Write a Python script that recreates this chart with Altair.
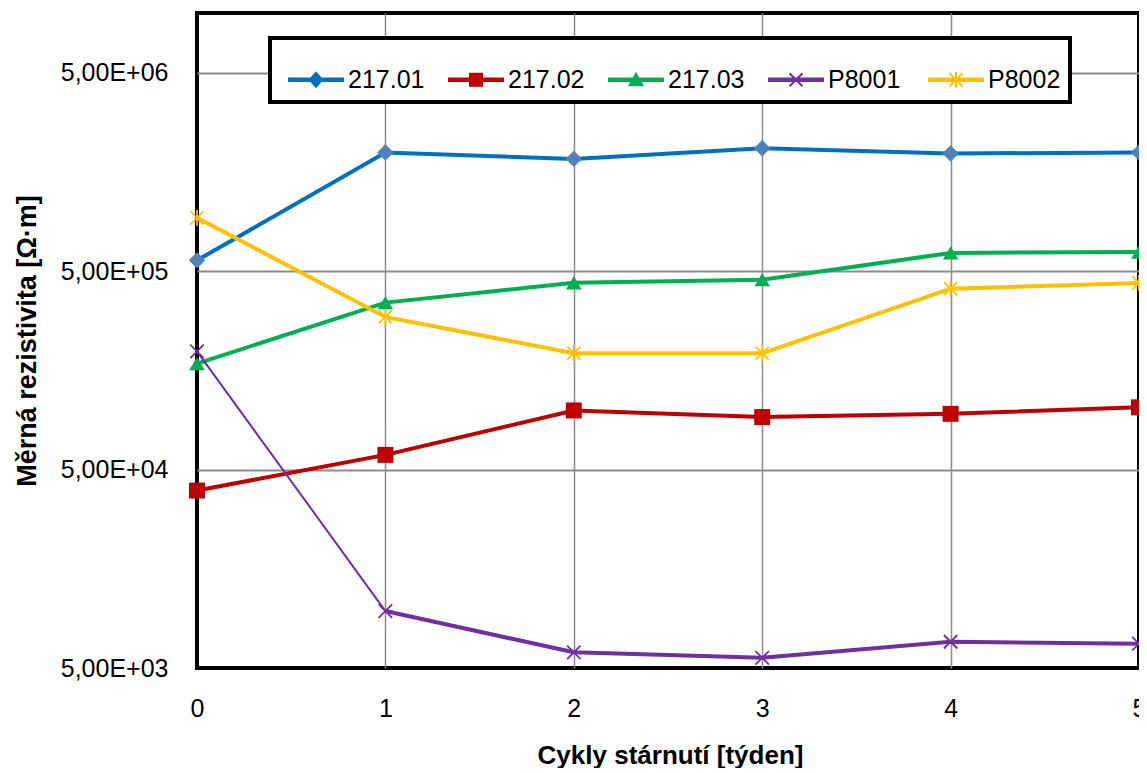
import math
import altair as alt
import pandas as pd

# ---------------- data ----------------
cycles = [0, 1, 2, 3, 4, 5]
series_names = ["217.01", "217.02", "217.03", "P8001", "P8002"]
v_21701 = [5.67e5, 1.98e6, 1.84e6, 2.08e6, 1.96e6, 1.98e6]
v_21702 = [3.92e4, 5.93e4, 9.93e4, 9.20e4, 9.55e4, 1.03e5]
v_21703 = [1.71e5, 3.47e5, 4.37e5, 4.53e5, 6.18e5, 6.25e5]
v_P8001 = [1.97e5, 9.68e3, 6.00e3, 5.63e3, 6.78e3, 6.63e3]
v_P8002 = [9.29e5, 2.94e5, 1.93e5, 1.93e5, 4.08e5, 4.36e5]
y_ticks = [5e3, 5e4, 5e5, 5e6]
x_ticks = [0, 1, 2, 3, 4, 5]

line_colors = ["#0070C0", "#C00000", "#00B050", "#7030A0", "#FFC000"]
marker_colors = ["#4F81BD", "#C00000", "#00B050", "#7030A0", "#FFC000"]

rows = []
for name, vals in zip(series_names, [v_21701, v_21702, v_21703, v_P8001, v_P8002]):
    for c, v in zip(cycles, vals):
        rows.append({"cycle": c, "value": v, "series": name})
df = pd.DataFrame(rows)
# in the original, the first P8001 segment (cycle 0 -> 1) is drawn thinner
df_thin = df[(df["series"] == "P8001") & (df["cycle"] <= 1)]
df_thick = df[~((df["series"] == "P8001") & (df["cycle"] == 0))]

# ---------------- symbol paths ----------------
def poly(pts):
    n = len(pts)
    a = sum(pts[i][0] * pts[(i + 1) % n][1] - pts[(i + 1) % n][0] * pts[i][1] for i in range(n))
    if a < 0:
        pts = pts[::-1]
    return "M" + "L".join(f"{x:.3f},{y:.3f}" for x, y in pts) + "Z"

def bar(x1, y1, x2, y2, t):
    dx, dy = x2 - x1, y2 - y1
    L = math.hypot(dx, dy)
    nx, ny = -dy / L * t, dx / L * t
    return poly([(x1 + nx, y1 + ny), (x2 + nx, y2 + ny), (x2 - nx, y2 - ny), (x1 - nx, y1 - ny)])

# data markers (unit box)
x_mark = bar(-0.9, -0.9, 0.9, 0.9, 0.12) + bar(-0.9, 0.9, 0.9, -0.9, 0.12)
ast_mark = x_mark + bar(0, -1.1, 0, 1.1, 0.12)
data_shapes = ["diamond", "square", "triangle-up", x_mark, ast_mark]
data_sizes = [270, 210, 240, 175, 175]

# legend symbols: line + marker, designed in pixels then normalised
SYM_W = 65.0      # full symbol box width
GAP = 9.0         # empty space at the left of each symbol
HALF = SYM_W / 2

def px(x, y):
    return ((x - HALF) / HALF, y / HALF)

def ppoly(pts):
    return poly([px(x, y) for x, y in pts])

def pbar(x1, y1, x2, y2, t):
    a = px(x1, y1)
    b = px(x2, y2)
    return bar(a[0], a[1], b[0], b[1], t / HALF)

MC = GAP + 28.0   # marker centre
lline = pbar(GAP, 0, SYM_W, 0, 2.2)
xl = pbar(MC - 6.5, -6.5, MC + 6.5, 6.5, 1.0) + pbar(MC - 6.5, 6.5, MC + 6.5, -6.5, 1.0)
leg_shapes = [
    lline + ppoly([(MC, -8.5), (MC + 7.5, 0), (MC, 8.5), (MC - 7.5, 0)]),
    lline + ppoly([(MC - 7, -7), (MC + 7, -7), (MC + 7, 7), (MC - 7, 7)]),
    lline + ppoly([(MC, -8), (MC + 8, 6.5), (MC - 8, 6.5)]),
    lline + xl,
    lline + xl + pbar(MC, -8, MC, 8, 1.0),
]

FONT = "Liberation Sans"
GRID = "#8c8c8c"

x_enc = alt.X(
    "cycle:Q",
    scale=alt.Scale(domain=[0, 5], nice=False, zero=False),
    axis=alt.Axis(
        values=x_ticks, format="d", title="Cykly stárnutí [týden]",
        grid=True, gridColor=GRID, gridWidth=1.5,
        gridOpacity={"condition": {"test": "datum.value == 0 || datum.value == 5", "value": 0}, "value": 1},
        domain=False, ticks=False, labelPadding=28, labelFontSize=25, labelFont=FONT,
        labelColor="black", labelFlush=False,
        titleFont=FONT, titleFontSize=26, titleFontWeight="bold", titleColor="black",
        titleX=473, titleY=87, titleBaseline="middle", titleAlign="center",
    ),
)
y_enc = alt.Y(
    "value:Q",
    scale=alt.Scale(type="log", domain=[5000, 1e7], nice=False),
    axis=alt.Axis(
        values=y_ticks,
        labelExpr="replace(format(datum.value / pow(10, floor(log(datum.value)/LN10 + 1e-9)), '.2f'), '.', ',') + 'E+' + format(floor(log(datum.value)/LN10 + 1e-9), '02d')",
        title="Měrná rezistivita [Ω·m]",
        grid=True, gridColor=GRID, gridWidth=2,
        gridOpacity={"condition": {"test": "datum.value < 6000", "value": 0}, "value": 1},
        domain=False, ticks=False, labelPadding=29, labelFontSize=25, labelFont=FONT,
        labelColor="black",
        titleFont=FONT, titleFontSize=27, titleFontWeight="bold", titleColor="black",
        titleAngle=270, titleX=-170, titleY=327.5, titleBaseline="middle", titleAlign="center",
    ),
)

line_color = alt.Color("series:N", scale=alt.Scale(domain=series_names, range=line_colors), legend=None)

lines = alt.Chart(df_thick).mark_line(strokeWidth=4).encode(x=x_enc, y=y_enc, color=line_color)
thin_line = alt.Chart(df_thin).mark_line(strokeWidth=2).encode(x=x_enc, y=y_enc, color=line_color)

points = alt.Chart(df).mark_point(filled=True, opacity=1).encode(
    x=x_enc, y=y_enc,
    color=alt.Color("series:N", scale=alt.Scale(domain=series_names, range=marker_colors), legend=None),
    shape=alt.Shape("series:N", scale=alt.Scale(domain=series_names, range=data_shapes), legend=None),
    size=alt.Size("series:N", scale=alt.Scale(domain=series_names, range=data_sizes), legend=None),
)

leg = alt.Legend(
    orient="none", legendX=73, legendY=25, direction="horizontal", columns=5, title=None,
    labelFont=FONT, labelFontSize=25, labelColor="black", symbolSize=SYM_W * SYM_W,
    symbolStrokeWidth=0, symbolOpacity=1, labelOffset=4, columnPadding=14,
    gridAlign="all", padding=9, strokeColor="black", fillColor="white", labelLimit=300,
)
legend_layer = alt.Chart(df).mark_point(filled=True, opacity=1).encode(
    x=x_enc, y=y_enc,
    color=alt.Color("series:N", scale=alt.Scale(domain=series_names, range=line_colors), legend=leg),
    shape=alt.Shape("series:N", scale=alt.Scale(domain=series_names, range=leg_shapes), legend=leg),
).transform_filter("false")

chart = (
    alt.layer(lines, thin_line, points, legend_layer)
    .resolve_scale(color="independent", shape="independent", size="independent")
    .properties(
        width=942, height=655,
        padding={"left": 189, "top": 5, "right": 0, "bottom": 100},
        autosize=alt.AutoSizeParams(type="none"),
        background="white",
    )
    .configure_view(stroke="black", strokeWidth=4)
    .configure_legend(strokeWidth=4)
)

chart.save("out.html", embed_options={"renderer": "svg", "actions": False})
